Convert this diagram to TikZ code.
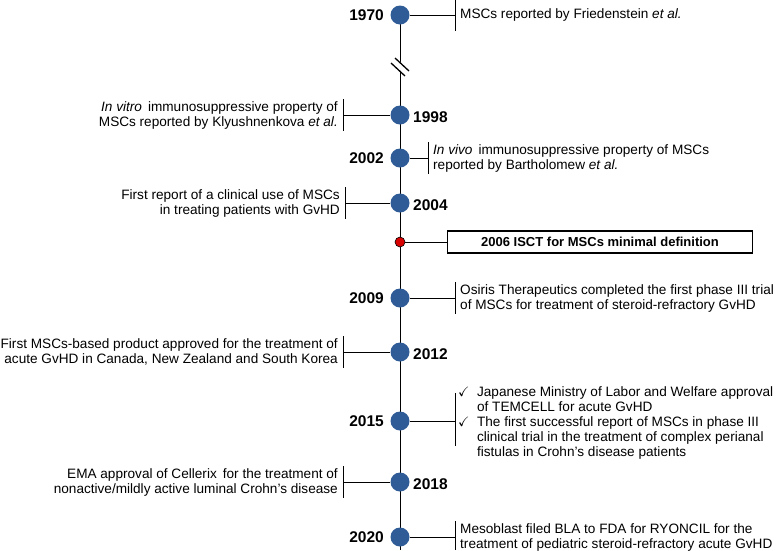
\documentclass[tikz,border=0pt]{standalone}
\usepackage{fontspec}
\setmainfont{Liberation Sans}
\usepackage{amssymb}
\begin{document}
\begin{tikzpicture}[x=1pt,y=-1pt,
  yr/.style={font=\fontsize{15.5}{17}\selectfont\bfseries,inner sep=0pt},
  txt/.style={font=\fontsize{13.6}{15}\selectfont,align=left,inner sep=0pt},
  txtl/.style={font=\fontsize{13.6}{15}\selectfont,align=right,inner sep=0pt},
  ln/.style={line width=0.9pt}]
\definecolor{dotc}{RGB}{47,92,150}
\tikzset{dot/.style={circle,fill=dotc,minimum size=19pt,inner sep=0pt}}
\useasboundingbox (0,0) rectangle (778,550);
\coordinate (top) at (400,15);
\coordinate (bot) at (400,550);
\draw[ln] (top) -- (bot);
% break
\fill[white] (392,63) -- (396,58) -- (409,70) -- (405,75) -- cycle;
\draw[line width=1.3pt] (391,63) -- (405,76) (395,58) -- (409,71);
% nodes
\foreach \n/\y in {a/15,b/115,c/158,d/203,f/298,g/352,h/421,i/482,j/537}{
  \node[dot] (\n) at (400,\y) {};}
\node[circle,draw,fill=red!85!black,minimum size=10pt,inner sep=0pt,line width=0.6pt] (e) at (400,242) {};
% years
\node[yr,anchor=east] at (384,15) {1970};
\node[yr,anchor=west] at (413,117) {1998};
\node[yr,anchor=east] at (384,158) {2002};
\node[yr,anchor=west] at (413,205) {2004};
\node[yr,anchor=east] at (384,298) {2009};
\node[yr,anchor=west] at (413,354) {2012};
\node[yr,anchor=east] at (384,421) {2015};
\node[yr,anchor=west] at (413,484) {2018};
\node[yr,anchor=east] at (384,537) {2020};
% right items
\coordinate (ra) at (455,15); \draw[ln] (a) -- (ra); \draw[ln] (455,0) -- (455,31);
\node[txt,anchor=west] at (460,15) {MSCs reported by Friedenstein \textit{et al.}};
\coordinate (rc) at (428,158); \draw[ln] (c) -- (rc); \draw[ln] (428,142) -- (428,174);
\node[txt,anchor=west] at (433,158) {\textit{In vivo}\, immunosuppressive property of MSCs\\reported by Bartholomew \textit{et al.}};
\node[draw,line width=1.2pt,minimum width=305pt,minimum height=22pt,font=\fontsize{13}{15}\selectfont\bfseries,inner sep=0pt] (box) at (600,242) {2006 ISCT for MSCs minimal definition};
\draw[ln] (e) -- (box);
\coordinate (rf) at (455,298); \draw[ln] (f) -- (rf); \draw[ln] (455,282) -- (455,314);
\node[txt,anchor=west] at (460,298) {Osiris Therapeutics completed the first phase III trial\\of MSCs for treatment of steroid-refractory GvHD};
\coordinate (rh) at (455,421); \draw[ln] (h) -- (rh); \draw[ln] (455,393) -- (455,446);
\node[txt,anchor=north west] at (458,386) {$\checkmark$\ \ Japanese Ministry of Labor and Welfare approval\\\phantom{$\checkmark$\ \ }of TEMCELL for acute GvHD\\$\checkmark$\ \ The first successful report of MSCs in phase III\\\phantom{$\checkmark$\ \ }clinical trial in the treatment of complex perianal\\\phantom{$\checkmark$\ \ }fistulas in Crohn's disease patients};
\coordinate (rj) at (455,537); \draw[ln] (j) -- (rj); \draw[ln] (455,521) -- (455,550);
\node[txt,anchor=west] at (460,537) {Mesoblast filed BLA to FDA for RYONCIL for the\\treatment of pediatric steroid-refractory acute GvHD};
% left items
\coordinate (lb) at (343,115); \draw[ln] (b) -- (lb); \draw[ln] (343,99) -- (343,131);
\node[txtl,anchor=east] at (338,115) {\textit{In vitro}\, immunosuppressive property of\\MSCs reported by Klyushnenkova \textit{et al.}};
\coordinate (ld) at (345,203); \draw[ln] (d) -- (ld); \draw[ln] (345,187) -- (345,219);
\node[txtl,anchor=east] at (340,203) {First report of a clinical use of MSCs\\in treating patients with GvHD};
\coordinate (lg) at (343,352); \draw[ln] (g) -- (lg); \draw[ln] (343,336) -- (343,368);
\node[txtl,anchor=east] at (338,352) {First MSCs-based product approved for the treatment of\\acute GvHD in Canada, New Zealand and South Korea};
\coordinate (li) at (343,482); \draw[ln] (i) -- (li); \draw[ln] (343,466) -- (343,498);
\node[txtl,anchor=east] at (338,482) {EMA approval of Cellerix\, for the treatment of\\nonactive/mildly active luminal Crohn's disease};
\end{tikzpicture}
\end{document}
